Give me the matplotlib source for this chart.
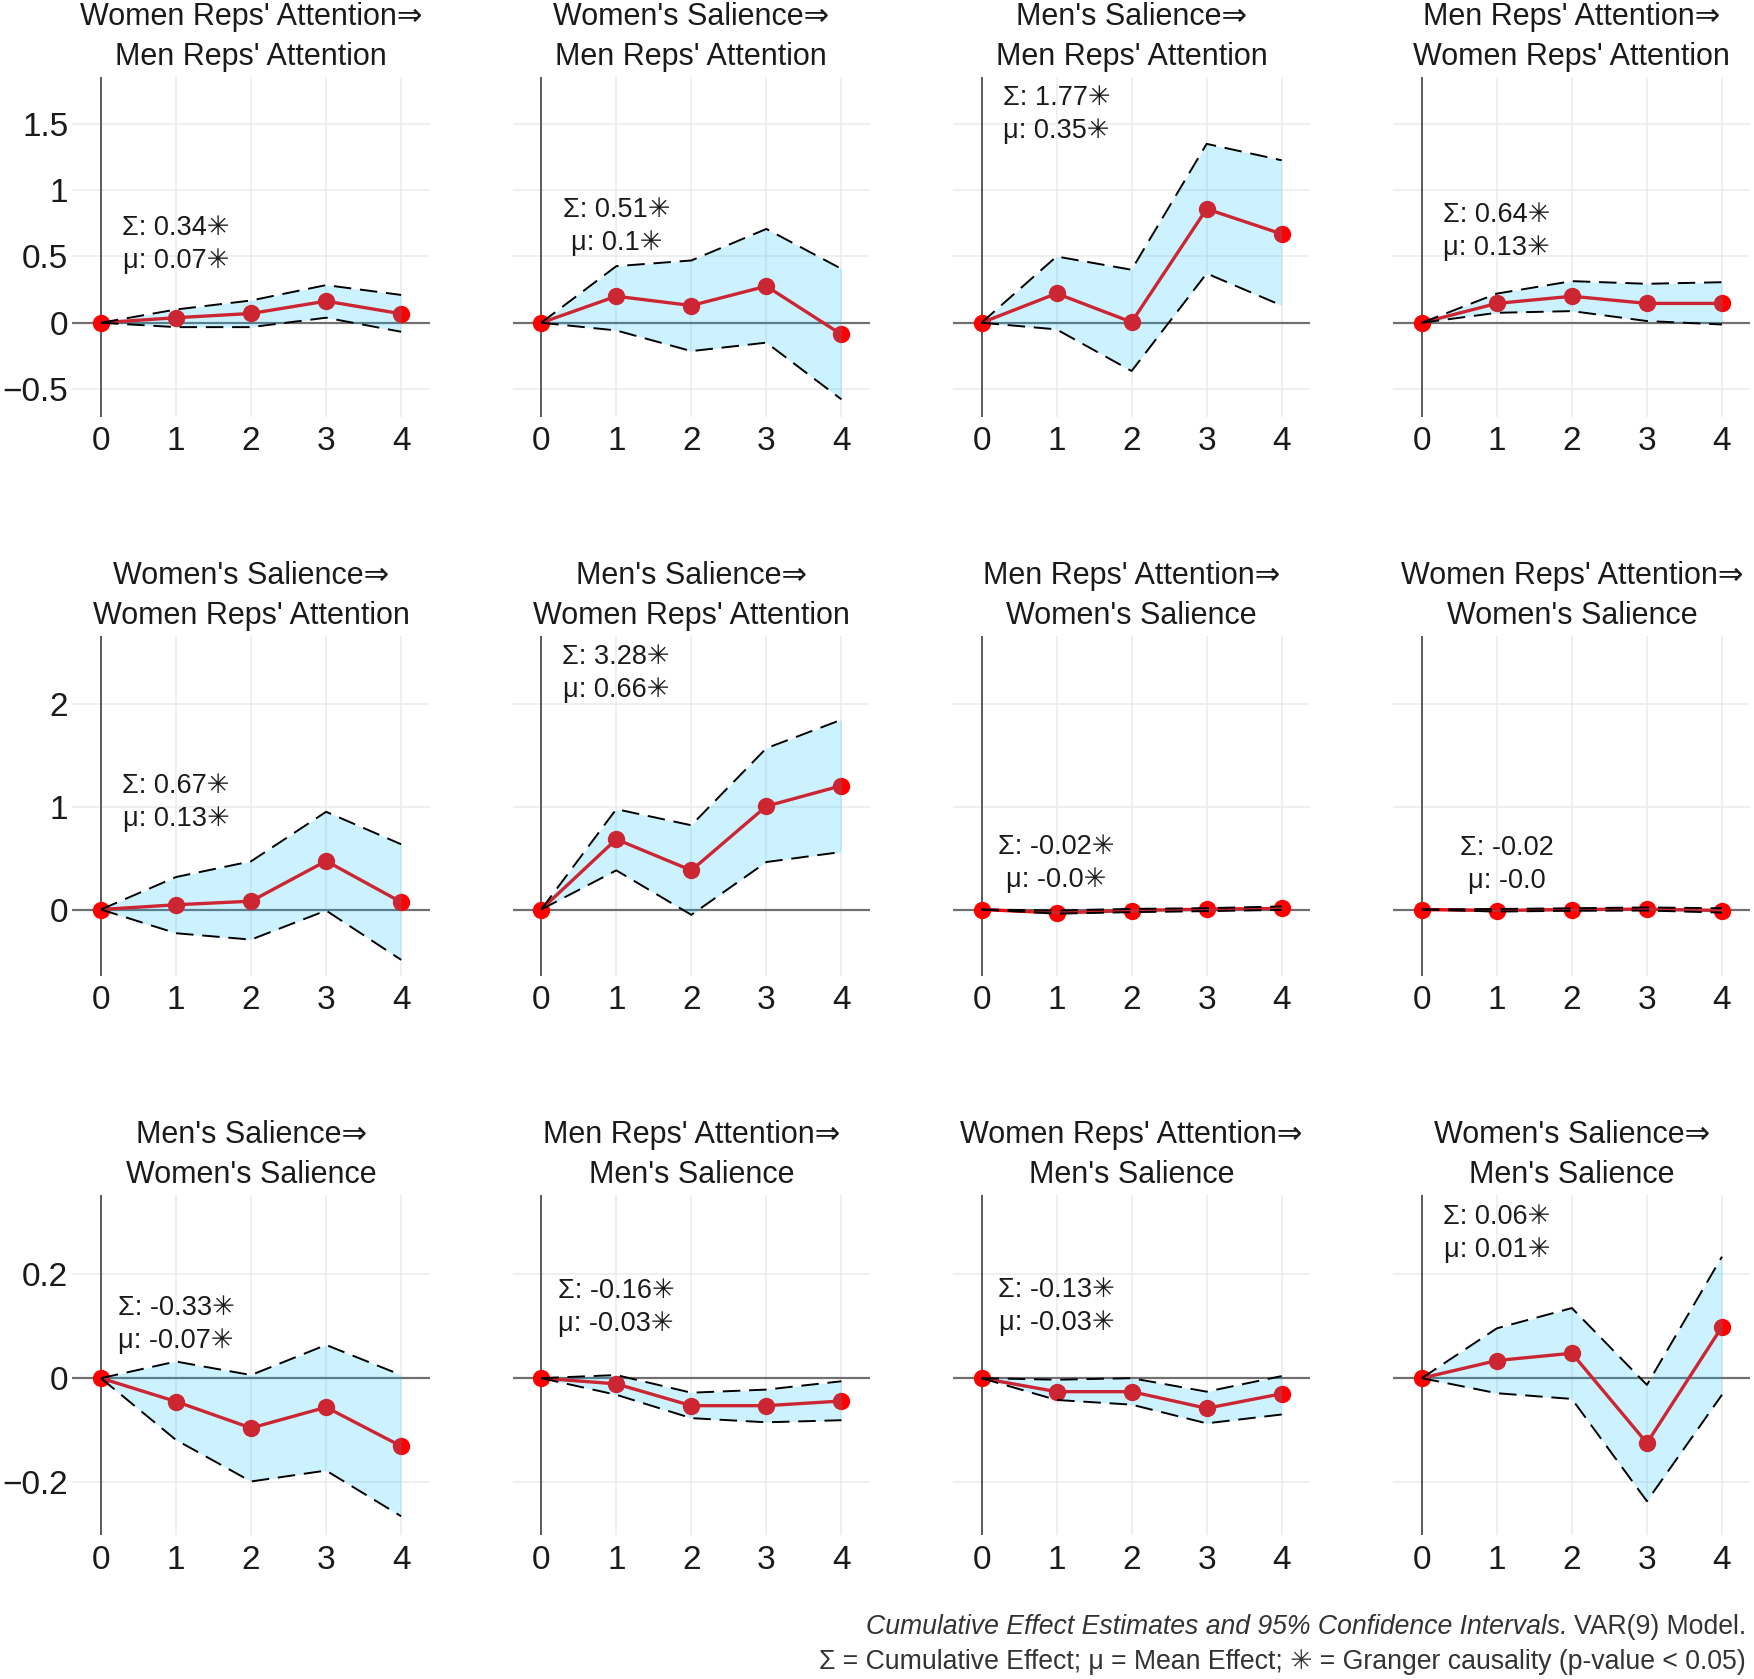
import matplotlib
matplotlib.use("Agg")
import matplotlib.pyplot as plt
from matplotlib.ticker import FuncFormatter

plt.rcParams['font.family'] = ['Liberation Sans', 'DejaVu Sans']

# lags shown on every panel
lags = [0, 1, 2, 3, 4]

titles = [
    "Women Reps' Attention⇒\nMen Reps' Attention",
    "Women's Salience⇒\nMen Reps' Attention",
    "Men's Salience⇒\nMen Reps' Attention",
    "Men Reps' Attention⇒\nWomen Reps' Attention",
    "Women's Salience⇒\nWomen Reps' Attention",
    "Men's Salience⇒\nWomen Reps' Attention",
    "Men Reps' Attention⇒\nWomen's Salience",
    "Women Reps' Attention⇒\nWomen's Salience",
    "Men's Salience⇒\nWomen's Salience",
    "Men Reps' Attention⇒\nMen's Salience",
    "Women Reps' Attention⇒\nMen's Salience",
    "Women's Salience⇒\nMen's Salience",
]

estimate = [
    [0, 0.038, 0.070, 0.163, 0.068],
    [0, 0.200, 0.130, 0.276, -0.088],
    [0, 0.221, 0.005, 0.859, 0.670],
    [0, 0.146, 0.200, 0.146, 0.146],
    [0, 0.046, 0.081, 0.472, 0.072],
    [0, 0.684, 0.381, 1.006, 1.205],
    [0, -0.033, -0.010, 0.003, 0.010],
    [0, -0.010, 0.000, 0.003, -0.010],
    [0, -0.045, -0.096, -0.056, -0.131],
    [0, -0.011, -0.053, -0.053, -0.044],
    [0, -0.026, -0.026, -0.058, -0.030],
    [0, 0.034, 0.048, -0.125, 0.099],
]

upper = [
    [0, 0.100, 0.168, 0.284, 0.210],
    [0, 0.427, 0.470, 0.708, 0.407],
    [0, 0.500, 0.400, 1.350, 1.226],
    [0, 0.220, 0.314, 0.294, 0.306],
    [0, 0.316, 0.469, 0.951, 0.635],
    [0, 0.977, 0.820, 1.570, 1.847],
    [0, -0.010, 0.006, 0.013, 0.030],
    [0, 0.005, 0.012, 0.020, 0.012],
    [0, 0.032, 0.006, 0.064, 0.006],
    [0, 0.006, -0.028, -0.022, -0.006],
    [0, -0.003, 0.000, -0.026, 0.004],
    [0, 0.096, 0.135, -0.013, 0.234],
]

lower = [
    [0, -0.033, -0.033, 0.038, -0.068],
    [0, -0.058, -0.214, -0.150, -0.578],
    [0, -0.050, -0.364, 0.372, 0.130],
    [0, 0.075, 0.088, 0.013, -0.013],
    [0, -0.231, -0.293, -0.010, -0.490],
    [0, 0.381, -0.052, 0.462, 0.560],
    [0, -0.040, -0.026, -0.016, -0.003],
    [0, -0.020, -0.012, -0.010, -0.030],
    [0, -0.119, -0.199, -0.178, -0.266],
    [0, -0.032, -0.077, -0.085, -0.081],
    [0, -0.042, -0.051, -0.087, -0.070],
    [0, -0.029, -0.040, -0.237, -0.032],
]

sigma = ["0.34", "0.51", "1.77", "0.64", "0.67", "3.28",
         "-0.02", "-0.02", "-0.33", "-0.16", "-0.13", "0.06"]
mu = ["0.07", "0.1", "0.35", "0.13", "0.13", "0.66",
      "-0.0", "-0.0", "-0.07", "-0.03", "-0.03", "0.01"]
granger = [True, True, True, True, True, True,
           True, False, True, True, True, True]

# where the Σ/μ labels sit in each panel
label_x = [1, 1, 1, 1, 1, 1, 1, 1.13, 1, 1, 1, 1]
label_y = [0.59, 0.73, 1.57, 0.69, 1.04, 2.30, 0.445, 0.44, 0.1025, 0.136, 0.139, 0.2785]

row_ylim = [(-0.708, 1.854), (-0.645, 2.66), (-0.302, 0.352)]
row_yticks = [[-0.5, 0, 0.5, 1, 1.5], [0, 1, 2], [-0.2, 0, 0.2]]


def fmt(v, pos):
    return "{:g}".format(v).replace("-", "\u2212")


fig, axes = plt.subplots(3, 4, figsize=(17.54, 16.79), dpi=100, sharey='row')
fig.subplots_adjust(left=0.0413, right=0.998, top=0.9541, bottom=0.0858,
                    wspace=0.2325, hspace=0.647)

star = "\u2733"
for i, ax in enumerate(axes.flat):
    row = i // 4
    ax.set_xlim(-0.38, 4.38)
    ax.set_ylim(*row_ylim[row])
    ax.set_yticks(row_yticks[row])
    ax.set_xticks(lags)
    ax.yaxis.set_major_formatter(FuncFormatter(fmt))
    for s in ax.spines.values():
        s.set_visible(False)
    ax.grid(True, color='#EBEBEB', lw=1.1, zorder=0)
    ax.set_axisbelow(True)
    ax.tick_params(length=0, labelsize=24, colors='#1a1a1a')
    ax.tick_params(axis='x', pad=7)
    ax.tick_params(axis='y', pad=3)

    ax.axhline(0, color='#707070', lw=1.6, zorder=1)
    ax.axvline(0, color='#5a5a5a', lw=1.4, zorder=1)

    ax.plot(lags, estimate[i], color='red', lw=2.4, zorder=2)
    ax.plot(lags, estimate[i], 'o', color='red', ms=12.5, mew=0, zorder=3)
    ax.fill_between(lags, lower[i], upper[i], color='deepskyblue', alpha=0.2,
                    lw=0, zorder=4)
    ax.plot(lags, upper[i], color='black', lw=1.4, dashes=(9, 4.5), zorder=5)
    ax.plot(lags, lower[i], color='black', lw=1.4, dashes=(9, 4.5), zorder=5)

    mark = star if granger[i] else ""
    ax.text(label_x[i], label_y[i],
            "Σ: " + sigma[i] + mark + "\nμ: " + mu[i] + mark,
            ha='center', va='center', multialignment='center',
            fontsize=19.5, linespacing=1.35, color='#1a1a1a', zorder=6)

    ax.set_title(titles[i], fontsize=22, linespacing=1.42, pad=9, color='#1a1a1a')

# caption at the bottom right
fig.canvas.draw()
r = fig.canvas.get_renderer()
W = fig.bbox.width
x_right = 1746 / W
cap2 = fig.text(x_right, 1 - 1662 / 1679,
                "Σ = Cumulative Effect; μ = Mean Effect; " + star +
                " = Granger causality (p-value < 0.05)",
                ha='right', va='center', fontsize=19.2, color='#333333')
cap1b = fig.text(x_right, 1 - 1627 / 1679, "VAR(9) Model.",
                 ha='right', va='center', fontsize=19.2, color='#333333')
bb = cap1b.get_window_extent(renderer=r)
fig.text((bb.x0 - 6) / W, 1 - 1627 / 1679,
         "Cumulative Effect Estimates and 95% Confidence Intervals.",
         ha='right', va='center', fontsize=19.2, style='italic', color='#333333')

fig.savefig("out.png", dpi=100)
